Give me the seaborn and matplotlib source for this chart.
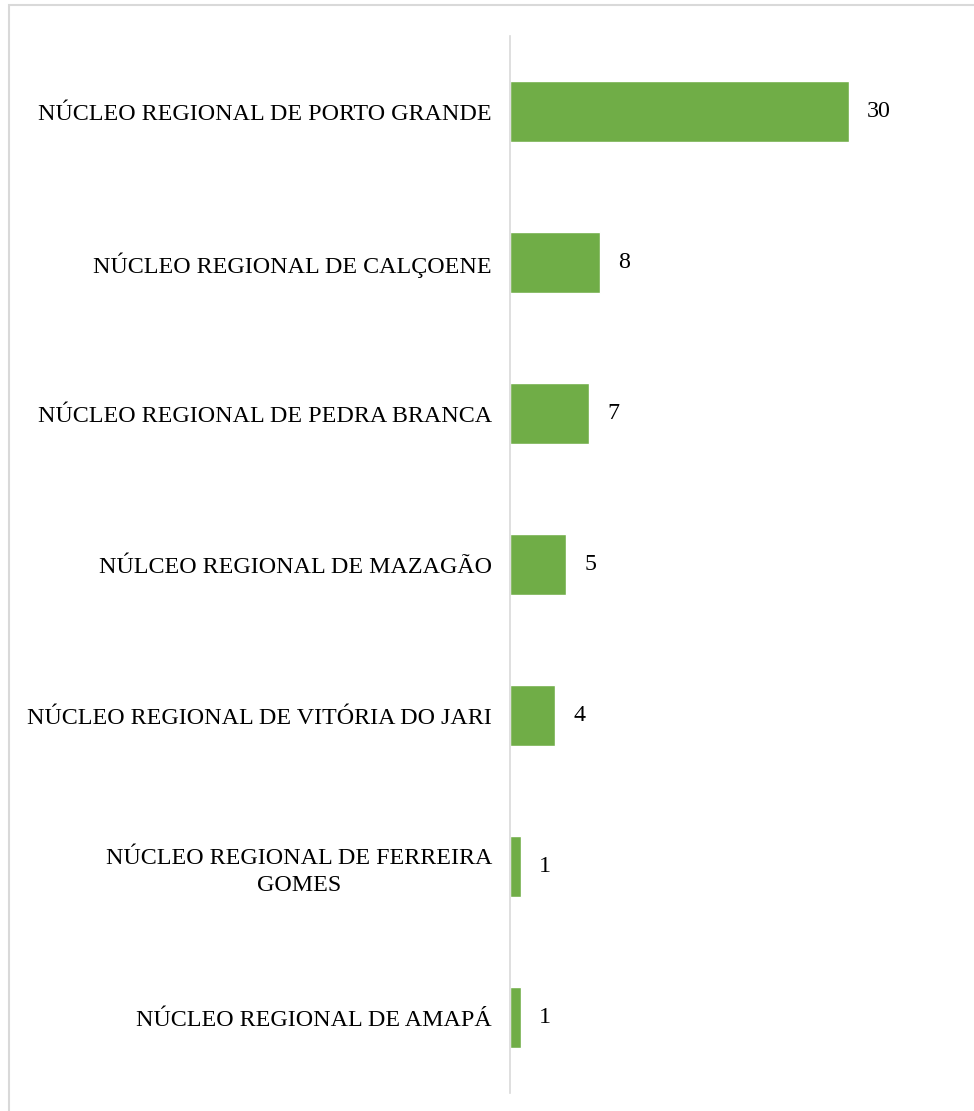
import matplotlib
matplotlib.use("Agg")
import matplotlib.pyplot as plt
import seaborn as sns
import pandas as pd
from matplotlib.patches import Rectangle

# data
regions = [
    "NÚCLEO REGIONAL DE PORTO GRANDE",
    "NÚCLEO REGIONAL DE CALÇOENE",
    "NÚCLEO REGIONAL DE PEDRA BRANCA",
    "NÚLCEO REGIONAL DE MAZAGÃO",
    "NÚCLEO REGIONAL DE VITÓRIA DO JARI",
    "NÚCLEO REGIONAL DE FERREIRA\nGOMES",
    "NÚCLEO REGIONAL DE AMAPÁ",
]
counts = [30, 8, 7, 5, 4, 1, 1]

BAR_COLOR = "#70AD47"

sns.set_theme(style="white")
plt.rcParams["font.family"] = ["Liberation Serif", "DejaVu Serif"]

df = pd.DataFrame({"region": regions, "count": counts})

fig = plt.figure(figsize=(9.74, 11.11), dpi=100)
ax = fig.add_axes([510 / 974, 1 - 1093 / 1111, 395 / 974, (1093 - 36) / 1111])

sns.barplot(data=df, x="count", y="region", color=BAR_COLOR, width=0.4,
            saturation=1, ax=ax)

ax.set_xlim(0, 35)
ax.set_ylim(6.5, -0.5)
ax.set_xlabel("")
ax.set_ylabel("")
ax.set_xticks([])

for s in ["top", "right", "bottom"]:
    ax.spines[s].set_visible(False)
ax.spines["left"].set_color("#d9d9d9")
ax.spines["left"].set_linewidth(1.2)

ax.tick_params(axis="y", length=0, pad=13, labelsize=17.3)
for lab in ax.get_yticklabels():
    lab.set_multialignment("center")
    lab.set_linespacing(1.35)
    lab.set_color("black")

# value labels at the bar ends
for i, v in enumerate(counts):
    ax.annotate(str(v), xy=(v, i), xytext=(13, 0), textcoords="offset points",
                va="center", ha="left", fontsize=17.3, color="black")

# thin frame around the chart area
fig.patches.append(Rectangle((9 / 974, -0.01), 1.0, 1 - 5 / 1111 + 0.01,
                             transform=fig.transFigure, fill=False,
                             edgecolor="#d9d9d9", linewidth=1.5))

fig.savefig("out.png", dpi=100)
